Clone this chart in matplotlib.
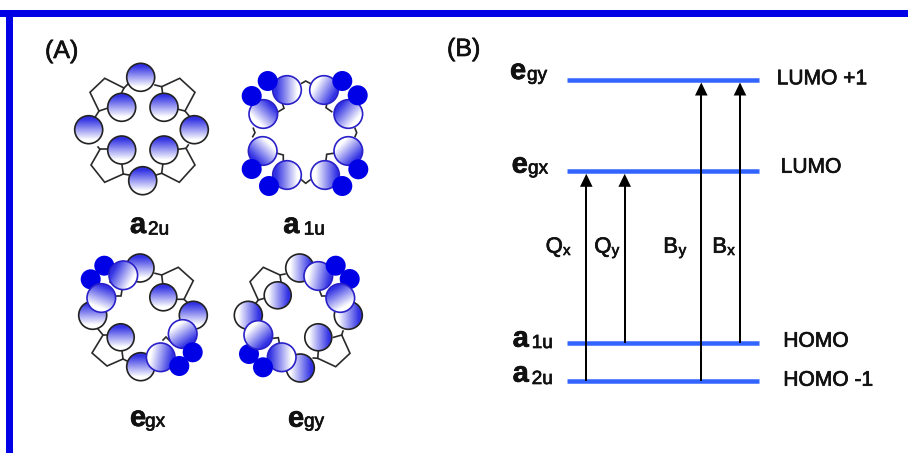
import numpy as np
import matplotlib
matplotlib.use("Agg")
import matplotlib.pyplot as plt
import matplotlib.patheffects as pe
from matplotlib.patches import Circle, Rectangle

plt.rcParams['font.family'] = ['Liberation Sans', 'DejaVu Sans']

# everything below is read off the picture, in image pixels
# circles are (x, y, r, direction of the fade towards white in degrees, y down)
a2u_back = [(140.7, 77.3, 14, 90), (121.7, 107.3, 14, 90), (164, 107.3, 14, 90), (88.7, 129.7, 14, 90),
            (194.3, 129.7, 14, 90), (121.7, 150, 14, 90), (164, 150, 14, 90), (142.7, 180.7, 14, 90)]
a2u_bonds = [[(121, 94), (124, 88), (104.7, 78.3), (90, 92.3), (99, 111), (108, 108)],
             [(124, 88), (128, 84)], [(99, 111), (95, 117.3)],
             [(155, 85), (161.7, 86.7), (179.7, 78.3), (195, 92.3), (185, 111), (178.3, 109.3)],
             [(161.7, 86.7), (163, 96)], [(185, 111), (190, 117)],
             [(98, 147), (100, 149.3), (91, 165), (104.7, 182.3), (123.3, 174), (121.7, 163)],
             [(100, 149.3), (107.3, 149.3)], [(123.3, 174), (129, 175)],
             [(178.3, 149.3), (186, 148.3), (195, 165), (179.3, 182.3), (161.7, 173.3), (163, 163)],
             [(186, 148.3), (188.3, 145)], [(161.7, 173.3), (156, 175)]]

a1u_front = [(287, 90, 14.3, 0), (324, 90, 14.3, 210), (263.3, 114, 14.3, 135), (348.3, 114, 14.3, 40),
             (262.7, 151, 14.3, -45), (348.3, 151, 14.3, 225), (287, 175, 14.3, 0), (325, 175, 14.3, 180)]
a1u_lobes = [(267.7, 81, 10), (251.7, 96, 10), (342.3, 81, 10), (357.7, 95.3, 10),
             (251.7, 169, 10), (269, 186, 10), (358.3, 169.3, 10), (342.3, 186, 10)]
a1u_bonds = [[(301.7, 83.3), (305.7, 81), (310, 83.3)], [(278.3, 111.7), (284, 108.3), (282.7, 104.3)],
             [(331.7, 111.7), (326, 107.7), (326.7, 104.3)], [(253.3, 128.3), (255, 132.7), (252.7, 136.7)],
             [(355, 128.3), (356.7, 132.7), (355, 136.7)], [(277.3, 153.3), (283.3, 155), (283.3, 160)],
             [(333.3, 153.3), (326.7, 154.3), (326, 160)], [(301.7, 180), (305.7, 183.3), (310, 180)]]

egx_back = [(140, 268, 14, 90), (163.3, 297.3, 13.5, 90), (193.3, 315.3, 14, 90),
            (92.7, 315.3, 14, 90), (120.7, 337.3, 13.5, 90), (140.7, 366.7, 14, 90)]
egx_front = [(123.3, 275.3, 14.3, 30), (101.3, 298, 14.3, 110), (182.7, 334, 14.3, 235), (160.7, 357.3, 14.3, 190)]
egx_lobes_under = [(104.3, 265.7, 10), (90.7, 279.3, 10)]
egx_lobes_over = [(192.7, 352.3, 10), (179.3, 366, 10)]
egx_bonds = [[(155, 273.3), (161.7, 275), (178.3, 267.3), (193.3, 280.7), (184, 299.3), (176.7, 299.3)],
             [(161.7, 275), (162.7, 283.3)], [(184, 299.3), (188.3, 303.3)],
             [(98, 329), (103, 335), (92, 353), (107, 366), (123, 359), (122, 351)],
             [(103, 335), (108, 335)], [(123, 359), (127, 361)],
             [(110, 282), (122, 290), (121, 296), (115, 296)], [(163, 340), (166, 337), (172, 343)]]

egy_back = [(299.7, 268, 14, 180), (277.7, 295.3, 13.5, 180), (348.3, 315.3, 14, 180),
            (248.3, 315.3, 14, 180), (318.3, 337.3, 13.5, 180), (300.3, 368, 14, 180)]
egy_front = [(318.3, 276, 14.3, 190), (340.3, 298, 14.3, 60), (258.3, 335, 14.3, 225), (281.7, 357.3, 14.3, 0)]
egy_lobes_under = [(349.7, 279, 10), (249, 354, 10)]
egy_lobes_over = [(335.7, 265.7, 10), (263, 367.3, 10)]
egy_bonds = [[(280, 275), (263.3, 267.3), (250, 281.7), (258.3, 300), (264.3, 298.3)],
             [(285, 274), (280, 275), (281, 282)], [(258.3, 300), (256, 303)],
             [(333.7, 337.3), (341.7, 335), (350, 353.3), (335.7, 366.7), (317.7, 358.3), (318.3, 351.7)],
             [(341.7, 335), (343, 331)], [(317.7, 358.3), (313.3, 358)],
             [(320, 291.7), (321.7, 296), (327.7, 296)], [(273.3, 338.3), (278.3, 337.7), (279.3, 342.7)]]

level_names = ['egy', 'egx', 'a1u', 'a2u']
level_y = [80, 171.3, 343.3, 381]
level_x0, level_x1 = 567, 759

transition_x = [586.3, 624.7, 701.3, 740]
transition_from = [381, 343.3, 381, 343.3]
transition_to = [171.3, 171.3, 80, 80]

# text, x, baseline y
side_labels = [('LUMO +1', 776.7, 84.3), ('LUMO', 780.7, 172.7), ('HOMO', 783.3, 346.7), ('HOMO -1', 783.3, 385.7)]
# main, sub, x, baseline, x of sub, baseline of sub
orbital_labels = [('e', 'gy', 510, 79, 527, 80), ('e', 'gx', 511.7, 172.7, 528, 173.5),
                  ('a', '1u', 512.7, 346.7, 531.7, 348), ('a', '2u', 512.7, 381.7, 531.7, 384),
                  ('a', '2u', 130, 233, 148, 234.5), ('a', '1u', 283.3, 233, 303.7, 234.5),
                  ('e', 'gx', 130, 426, 145, 426.7), ('e', 'gy', 288, 426.7, 304, 426.7)]
transition_labels = [('Q', 'x', 545.7, 563), ('Q', 'y', 594.3, 611.7), ('B', 'y', 663.3, 678.7), ('B', 'x', 712.3, 727.3)]

BLUE = np.array([50, 50, 228]) / 255
LEVEL = '#3264ff'
DPI = 100


def px(size):
    return size * 72 / DPI


def label(ax, x, y, s, size, **kw):
    t = ax.text(x, y, s, fontsize=px(size), ha='left', va='baseline', color='#111111', **kw)
    # the original lettering is a bit heavier than the plain font
    t.set_path_effects([pe.withStroke(linewidth=0.5, foreground='#111111')])


def shaded_circle(ax, x, y, r, angle, edge, z):
    # fade from blue to white, cut to the circle
    g = np.linspace(-1, 1, 64)
    xx, yy = np.meshgrid(g, g)
    a = np.radians(angle)
    t = np.clip((xx * np.cos(a) + yy * np.sin(a) + 0.8) / 1.5, 0, 1)[..., None]
    img = BLUE + (1 - BLUE) * t
    im = ax.imshow(img, extent=(x - r, x + r, y + r, y - r), aspect='auto', zorder=z, interpolation='bilinear')
    c = Circle((x, y), r, fc='none', ec=edge, lw=1.2, zorder=z + 0.1)
    ax.add_patch(c)
    im.set_clip_path(c)


def draw_orbital(ax, bonds, back=(), front=(), lobes_under=(), lobes_over=()):
    for pts in bonds:
        xs, ys = zip(*pts)
        ax.plot(xs, ys, color='#2a2a2a', lw=1.2, solid_joinstyle='miter', zorder=3)
    for x, y, r, angle in back:
        shaded_circle(ax, x, y, r, angle, '#222222', 4)
    for x, y, r in lobes_under:
        ax.add_patch(Circle((x, y), r, fc='#0000e6', ec='none', zorder=5))
    for i, (x, y, r, angle) in enumerate(front):
        shaded_circle(ax, x, y, r, angle, '#2a20c8', 6 + i * 0.2)
    for x, y, r in lobes_over:
        ax.add_patch(Circle((x, y), r, fc='#0000e6', ec='none', zorder=8))


fig = plt.figure(figsize=(9.08, 4.53), dpi=DPI)
ax = fig.add_axes([0, 0, 1, 1])

# frame, only top and left are there
ax.add_patch(Rectangle((0, 10), 908, 6.5, fc='#0000e6', ec='none'))
ax.add_patch(Rectangle((6, 10), 6.5, 443, fc='#0000e6', ec='none'))

label(ax, 45, 58, '(A)', 25)
label(ax, 447, 56, '(B)', 25)

draw_orbital(ax, a2u_bonds, back=a2u_back)
draw_orbital(ax, a1u_bonds, front=a1u_front, lobes_over=a1u_lobes)
draw_orbital(ax, egx_bonds, back=egx_back, front=egx_front, lobes_under=egx_lobes_under, lobes_over=egx_lobes_over)
draw_orbital(ax, egy_bonds, back=egy_back, front=egy_front, lobes_under=egy_lobes_under, lobes_over=egy_lobes_over)

for y in level_y:
    ax.plot([level_x0, level_x1], [y, y], color=LEVEL, lw=px(4.5), solid_capstyle='butt', zorder=2)

for x, y0, y1 in zip(transition_x, transition_from, transition_to):
    ax.plot([x, x], [y0, y1 + 12], color='black', lw=px(2), solid_capstyle='butt', zorder=3)
    ax.fill([x - 6.3, x + 6.3, x], [y1 + 15.5, y1 + 15.5, y1 + 2.5], color='black', lw=0, zorder=3)

for s, x, y in side_labels:
    label(ax, x, y, s, 21)

for main, sub, x, y, sx, sy in orbital_labels:
    label(ax, x, y, main, 29, fontweight='bold')
    label(ax, sx, sy, sub, 19)

for main, sub, x, sx in transition_labels:
    label(ax, x, 252.7, main, 22)
    label(ax, sx, 255, sub, 15)

ax.set_xlim(0, 908)
ax.set_ylim(453, 0)
ax.axis('off')
fig.savefig('out.png', dpi=DPI)
